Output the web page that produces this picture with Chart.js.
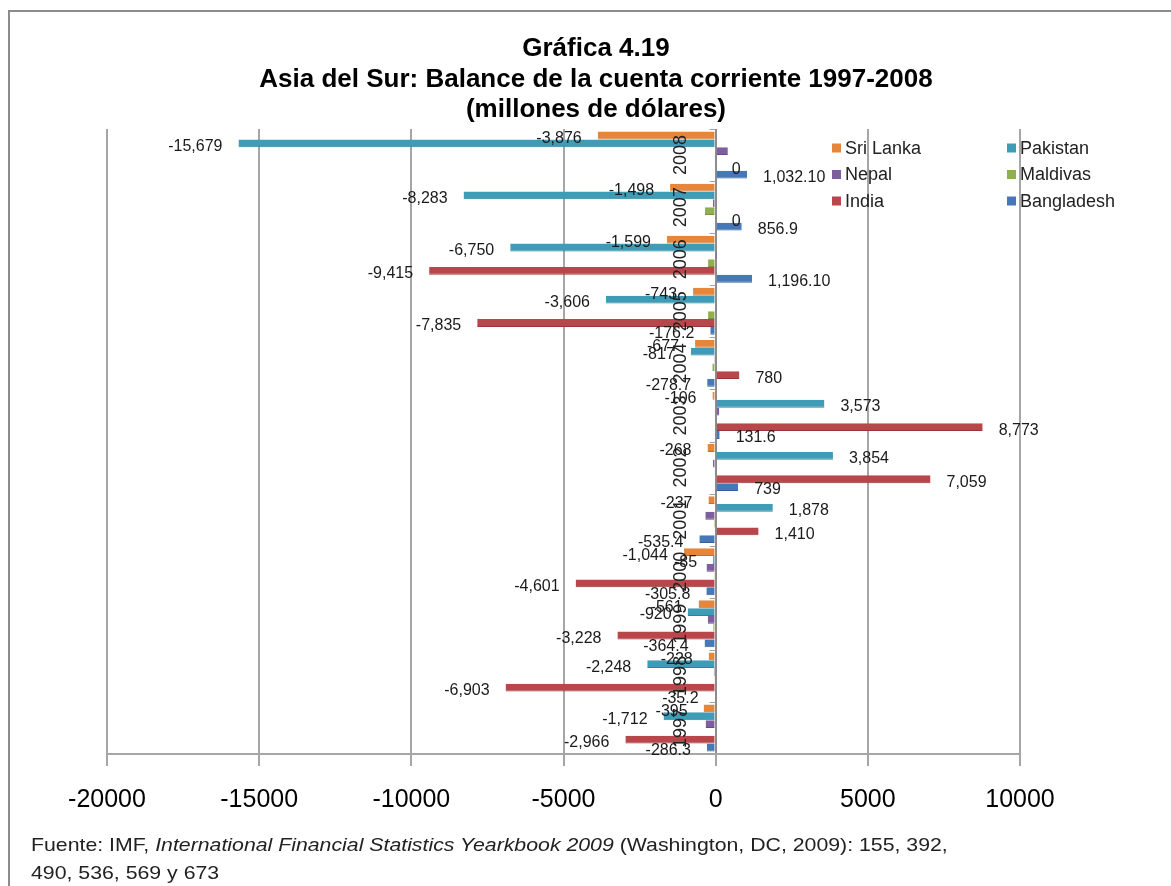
<!DOCTYPE html>
<html>
<head>
<meta charset="utf-8">
<script src="https://cdn.jsdelivr.net/npm/chart.js@4.4.1/dist/chart.umd.min.js"></script>
<style>
  body { margin: 0; background: #fff; font-family: "Liberation Sans", Arial, sans-serif; }
  #wrap { position: relative; width: 1171px; height: 886px; overflow: hidden; }
  #frame { position: absolute; left: 8px; top: 10px; width: 1200px; height: 900px;
           border-left: 2px solid #8c8c8c; border-top: 2px solid #8c8c8c; }
  #title { position: absolute; left: 0; top: 32px; width: 1192px; text-align: center;
           font-weight: bold; font-size: 26px; line-height: 30.5px; color: #000; }
  #note { position: absolute; left: 31px; top: 831px; font-size: 19px; line-height: 28px; color: #222;
          white-space: nowrap; transform: scaleX(1.12); transform-origin: 0 0; }
  canvas { position: absolute; left: 0; top: 0; }
</style>
</head>
<body>
<div id="wrap">
  <div id="frame"></div>
  <canvas id="chart" width="1171" height="886"></canvas>
  <div id="title">Gráfica 4.19<br>Asia del Sur: Balance de la cuenta corriente 1997-2008<br>(millones de dólares)</div>
  <div id="note">Fuente: IMF, <i>International Financial Statistics Yearkbook 2009</i> (Washington, DC, 2009): 155, 392,<br>490, 536, 569 y 673</div>
</div>
<script>
// years, oldest first (drawn bottom to top)
const years = ['1997', '1998', '1999', '2000', '2001', '2002', '2003', '2004', '2005', '2006', '2007', '2008'];

const sriLanka   = [-395, -228, -561, -1044, -237, -268, -106, -677, -743, -1599, -1498, -3876];
const pakistan   = [-1712, -2248, -920, -85, 1878, 3854, 3573, -817, -3606, -6750, -8283, -15679];
const nepal      = [-330, -60, -260, -300, -340, -90, 120, -50, 20, 10, -90, 400];
const maldivas   = [-30, -20, -80, -50, -60, -40, -30, -110, -250, -250, -350, -40];
const india      = [-2966, -6903, -3228, -4601, 1410, 7059, 8773, 780, -7835, -9415, 0, 0];
const bangladesh = [-286.3, -35.2, -364.4, -305.8, -535.4, 739, 131.6, -278.7, -176.2, 1196.1, 856.9, 1032.1];
const bangladeshText = ['-286.3', '-35.2', '-364.4', '-305.8', '-535.4', '739', '131.6', '-278.7', '-176.2', '1,196.10', '856.9', '1,032.10'];

const xTicks = [-20000, -15000, -10000, -5000, 0, 5000, 10000];

const FONT = '"Liberation Sans", Arial, sans-serif';
const labelled = [0, 1, 4, 5];   // series that carry value labels

const barLabels = {
  id: 'barLabels',
  afterDatasetsDraw(chart) {
    const { ctx, scales: { x, y } } = chart;
    const zero = x.getPixelForValue(0);
    ctx.save();

    // small ticks on the zero axis between years
    ctx.strokeStyle = '#a0a0a0';
    ctx.lineWidth = 1;
    for (let j = 0; j <= years.length; j++) {
      const py = Math.round(y.getPixelForValue(j - 0.5)) + 0.5;
      ctx.beginPath(); ctx.moveTo(zero - 6, py); ctx.lineTo(zero, py); ctx.stroke();
    }

    // value labels
    ctx.font = '16px ' + FONT;
    ctx.fillStyle = '#1a1a1a';
    ctx.textBaseline = 'middle';
    labelled.forEach(i => {
      const values = chart.data.datasets[i].data;
      chart.getDatasetMeta(i).data.forEach((bar, j) => {
        const v = values[j];
        const txt = i === 5 ? bangladeshText[j] : v.toLocaleString('en-US');
        if (v < 0) {
          ctx.textAlign = 'right';
          ctx.fillText(txt, bar.x - 16, bar.y + 3);
        } else {
          ctx.textAlign = 'left';
          ctx.fillText(txt, bar.x + 16, bar.y + 3);
        }
      });
    });

    // year labels, rotated, beside the zero axis
    ctx.font = '18px ' + FONT;
    ctx.fillStyle = '#222';
    ctx.textAlign = 'center';
    years.forEach((yr, j) => {
      ctx.save();
      ctx.translate(zero - 35, y.getPixelForValue(j));
      ctx.rotate(-Math.PI / 2);
      ctx.fillText(yr, 0, 0);
      ctx.restore();
    });

    // legend, two columns
    ctx.font = '18px ' + FONT;
    ctx.textAlign = 'left';
    chart.data.datasets.forEach((ds, k) => {
      const bx = 832 + (k % 2) * 175;
      const by = 148 + Math.floor(k / 2) * 26.5;
      ctx.fillStyle = ds.backgroundColor;
      ctx.fillRect(bx, by - 4.5, 9, 9);
      ctx.fillStyle = '#222';
      ctx.fillText(ds.label, bx + 13, by + 1);
    });
    ctx.restore();
  }
};

new Chart(document.getElementById('chart'), {
  type: 'bar',
  data: {
    labels: years,
    datasets: [
      { label: 'Sri Lanka',  data: sriLanka,   backgroundColor: '#E6863B', borderColor: '#C96F2A' },
      { label: 'Pakistan',   data: pakistan,   backgroundColor: '#3E9CB7', borderColor: '#2E8199' },
      { label: 'Nepal',      data: nepal,      backgroundColor: '#7D5FA0', borderColor: '#654A86' },
      { label: 'Maldivas',   data: maldivas,   backgroundColor: '#8FB052', borderColor: '#769440' },
      { label: 'India',      data: india,      backgroundColor: '#B8464A', borderColor: '#993538' },
      { label: 'Bangladesh', data: bangladesh, backgroundColor: '#4677B7', borderColor: '#345F97' }
    ]
  },
  options: {
    indexAxis: 'y',
    responsive: false,
    animation: false,
    devicePixelRatio: 1,
    layout: { padding: { top: 129, left: 107, right: 151, bottom: 0 } },
    datasets: { bar: { categoryPercentage: 0.9, barPercentage: 1.0, borderWidth: { bottom: 1, left: 0, right: 0, top: 0 }, borderSkipped: false } },
    plugins: {
      legend: { display: false },
      title: { display: false },
      tooltip: { enabled: false }
    },
    scales: {
      x: {
        min: xTicks[0],
        max: xTicks[xTicks.length - 1],
        afterBuildTicks: s => { s.ticks = xTicks.map(v => ({ value: v })); },
        afterFit: s => { s.height = 132; },
        ticks: {
          callback: v => String(v),
          color: '#000',
          font: { family: FONT, size: 25 },
          padding: 19
        },
        grid: {
          color: c => (c.tick && c.tick.value === 0 ? '#8c8c8c' : '#a6a6a6'),
          lineWidth: 2,
          tickLength: 12,
          tickColor: '#a6a6a6'
        },
        border: { color: '#a6a6a6', width: 2 }
      },
      y: {
        reverse: true,
        display: false
      }
    }
  },
  plugins: [barLabels]
});
</script>
</body>
</html>
